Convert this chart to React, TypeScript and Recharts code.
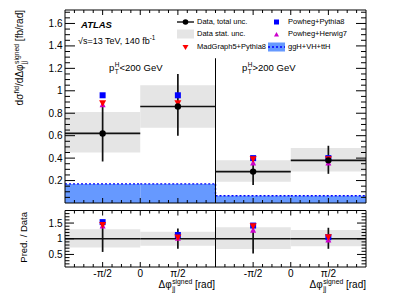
import React from 'react'
import { ComposedChart, XAxis, YAxis, Scatter, ErrorBar, ReferenceArea, ReferenceLine } from 'recharts'

// bins: two pT(H) regions, each split in dphi_jj < 0 and > 0
const binCentres = [0.5, 1.5, 2.5, 3.5]
const binHalfWidth = 0.5
const xTicks = [0.5, 1, 1.5, 2.5, 3, 3.5]
const xTickLabels = ['-π/2', '0', 'π/2', '-π/2', '0', 'π/2']

// main panel [fb/rad]
const dataValue = [0.62, 0.86, 0.28, 0.38]
const totalLow = [0.37, 0.6, 0.16, 0.26]
const totalHigh = [0.9, 1.15, 0.39, 0.51]
const statLow = [0.45, 0.67, 0.19, 0.28]
const statHigh = [0.81, 1.05, 0.38, 0.49]
const powhegPythia = [0.96, 0.96, 0.4, 0.4]
const madgraphPythia = [0.89, 0.89, 0.39, 0.39]
const powhegHerwig = [0.88, 0.88, 0.36, 0.36]
const otherHiggs = [0.17, 0.17, 0.065, 0.065]
const mainTicks = [0.2, 0.4, 0.6, 0.8, 1, 1.2, 1.4, 1.6]
const mainDomain = [0, 1.72]
const dividerTop = 1.29

// ratio panel
const ratioPowhegPythia = [1.53, 1.12, 1.42, 1.05]
const ratioMadgraph = [1.44, 1.04, 1.4, 1.05]
const ratioPowhegHerwig = [1.42, 1.03, 1.29, 0.98]
const ratioTotalLow = [0.58, 0.68, 0.53, 0.68]
const ratioTotalHigh = [1.45, 1.33, 1.4, 1.35]
const ratioStatLow = [0.72, 0.78, 0.67, 0.76]
const ratioStatHigh = [1.3, 1.22, 1.37, 1.28]
const ratioTicks = [0.5, 1, 1.5]
const ratioDomain = [0.1, 1.9]

// minor tick grids (majors are picked out of these by value)
const xAllTicks = Array.from({ length: 31 }, (_, i) => (i + 1) * 0.125)
const mainAllTicks = Array.from({ length: 34 }, (_, i) => Math.round((i + 1) * 5) / 100)
const ratioAllTicks = Array.from({ length: 17 }, (_, i) => Math.round(2 + i) / 10)

const FONT = '"Liberation Sans", Arial, Helvetica, sans-serif'
const GREY = '#e5e5e5'
const BLUE_FILL = '#6699ff'

const mainRows = binCentres.map((x, i) => ({
  x,
  xErr: binHalfWidth,
  data: dataValue[i],
  dataErr: [dataValue[i] - totalLow[i], totalHigh[i] - dataValue[i]],
  pp: powhegPythia[i],
  mg: madgraphPythia[i],
  ph: powhegHerwig[i],
}))

const ratioRows = binCentres.map((x, i) => ({
  x,
  xErr: binHalfWidth,
  data: 1,
  dataErr: [1 - ratioTotalLow[i], ratioTotalHigh[i] - 1],
  pp: ratioPowhegPythia[i],
  mg: ratioMadgraph[i],
  ph: ratioPowhegHerwig[i],
}))

const squareShape = (p: any) => <rect x={p.cx - 3} y={p.cy - 3} width={6} height={6} fill="#0000ff" />
const downTri = (p: any) => (
  <polygon points={`${p.cx - 3.5},${p.cy - 3} ${p.cx + 3.5},${p.cy - 3} ${p.cx},${p.cy + 3.5}`} fill="#ff0000" />
)
const upTri = (p: any) => (
  <polygon points={`${p.cx - 3},${p.cy + 3} ${p.cx + 3},${p.cy + 3} ${p.cx},${p.cy - 3}`} fill="#cc00cc" />
)
const dotShape = (p: any) => <circle cx={p.cx} cy={p.cy} r={3.2} fill="#000" />
const noShape = () => <g />

const line = { stroke: '#000', strokeWidth: 1 }
const isIn = (list: number[], v: number) => list.some((m) => Math.abs(m - v) < 1e-6)

// inward ROOT-style ticks, drawn at the coordinate recharts hands to the tick renderer
function yTick(majors: number[], side: 'left' | 'right', len: number, labels: boolean) {
  return (p: any) => {
    const v = p.payload.value
    const major = isIn(majors, v)
    const l = major ? len : len / 2
    const dir = side === 'left' ? 1 : -1
    return (
      <g>
        <line x1={p.x} x2={p.x + dir * l} y1={p.y} y2={p.y} stroke="#000" strokeWidth={1} />
        {labels && major && (
          <text x={p.x - 2.5} y={p.y} textAnchor="end" dominantBaseline="central" fontSize={10} fill="#000">{String(v)}</text>
        )}
      </g>
    )
  }
}

function xTick(side: 'bottom' | 'top', len: number, labels: boolean) {
  return (p: any) => {
    const v = p.payload.value
    const idx = xTicks.findIndex((m) => Math.abs(m - v) < 1e-6)
    const major = idx >= 0
    const l = major ? len : len * 0.6
    const dir = side === 'bottom' ? -1 : 1
    return (
      <g>
        <line x1={p.x} x2={p.x} y1={p.y} y2={p.y + dir * l} stroke="#000" strokeWidth={1} />
        {labels && major && (
          <text x={p.x} y={p.y + 10} textAnchor="middle" fontSize={10} fill="#000">{xTickLabels[idx]}</text>
        )}
      </g>
    )
  }
}

function frameAxes(domain: number[], yMajor: number[], yAll: number[], showX: boolean, yLen: number, xLen: number) {
  return [
    <XAxis key="xb" dataKey="x" type="number" domain={[0, 4]} allowDataOverflow ticks={xAllTicks} interval={0}
      height={1} tickSize={0} tickMargin={0} tickLine={false} axisLine={line} tick={xTick('bottom', xLen, showX)} />,
    <XAxis key="xt" xAxisId="xt" orientation="top" dataKey="x" type="number" domain={[0, 4]} allowDataOverflow ticks={xAllTicks} interval={0}
      height={1} tickSize={0} tickMargin={0} tickLine={false} axisLine={line} tick={xTick('top', xLen, false)} />,
    <YAxis key="yl" type="number" domain={domain} allowDataOverflow ticks={yAll} interval={0}
      width={1} tickSize={0} tickMargin={0} tickLine={false} axisLine={line} tick={yTick(yMajor, 'left', yLen, true)} />,
    <YAxis key="yr" yAxisId="yr" orientation="right" type="number" domain={domain} allowDataOverflow ticks={yAll} interval={0}
      width={1} tickSize={0} tickMargin={0} tickLine={false} axisLine={line} tick={yTick(yMajor, 'right', yLen, false)} />,
  ]
}

function statBands(lo: number[], hi: number[]) {
  return binCentres.map((x, i) => (
    <ReferenceArea key={'st' + i} x1={x - binHalfWidth} x2={x + binHalfWidth} y1={lo[i]} y2={hi[i]}
      fill={GREY} fillOpacity={1} stroke="none" />
  ))
}

function predictions() {
  return [
    <Scatter key="pp" dataKey="pp" shape={squareShape} isAnimationActive={false} />,
    <Scatter key="ph" dataKey="ph" shape={upTri} isAnimationActive={false} />,
    <Scatter key="mg" dataKey="mg" shape={downTri} isAnimationActive={false} />,
  ]
}

function dataSeries(shape: any) {
  return (
    <Scatter dataKey="data" shape={shape} isAnimationActive={false}>
      <ErrorBar dataKey="xErr" direction="x" width={0} stroke="#111" strokeWidth={1.7} />
      <ErrorBar dataKey="dataErr" direction="y" width={0} stroke="#111" strokeWidth={1.7} />
    </Scatter>
  )
}

// dotted outline of the other-Higgs histogram
const higgsOutline = binCentres.flatMap((x, i) => {
  const segs = [
    <ReferenceLine key={'h' + i} segment={[{ x: x - binHalfWidth, y: otherHiggs[i] }, { x: x + binHalfWidth, y: otherHiggs[i] }]}
      stroke="#0000ff" strokeWidth={1.4} strokeDasharray="2 2" />,
  ]
  if (i > 0 && otherHiggs[i] !== otherHiggs[i - 1]) {
    segs.push(
      <ReferenceLine key={'v' + i} segment={[{ x: x - binHalfWidth, y: otherHiggs[i - 1] }, { x: x - binHalfWidth, y: otherHiggs[i] }]}
        stroke="#0000ff" strokeWidth={1.4} strokeDasharray="2 2" />,
    )
  }
  return segs
})

function SubSup({ sub, sup }: { sub?: string; sup?: string }) {
  return (
    <span style={{ display: 'inline-flex', flexDirection: 'column', fontSize: '0.68em', lineHeight: 1.05, verticalAlign: 'middle', marginLeft: 0.5 }}>
      <span>{sup ?? '\u00a0'}</span>
      <span>{sub ?? '\u00a0'}</span>
    </span>
  )
}

const abs = (left: number, top: number, fontSize: number, extra: React.CSSProperties = {}): React.CSSProperties => ({
  position: 'absolute', left, top, fontSize, lineHeight: 1, whiteSpace: 'nowrap', ...extra,
})

function LegendSymbol({ kind }: { kind: string }) {
  return (
    <svg width={17} height={10} style={{ position: 'absolute', left: 0, top: -5 }}>
      {kind === 'data' && (<><line x1={0} x2={17} y1={5} y2={5} stroke="#000" strokeWidth={1.3} /><circle cx={8.5} cy={5} r={2.8} fill="#000" /></>)}
      {kind === 'stat' && <rect x={0} y={0.5} width={17} height={9} fill={GREY} />}
      {kind === 'mg' && <polygon points="5.5,3 11.5,3 8.5,8" fill="#ff0000" />}
      {kind === 'pp' && <rect x={6} y={2.5} width={5} height={5} fill="#0000ff" />}
      {kind === 'ph' && <polygon points="6,7.5 11,7.5 8.5,3" fill="#cc00cc" />}
      {kind === 'higgs' && (<><rect x={0} y={0.5} width={17} height={9} fill={BLUE_FILL} /><line x1={0} x2={17} y1={5} y2={5} stroke="#0000ff" strokeWidth={1.4} strokeDasharray="2 2" /></>)}
    </svg>
  )
}

function LegendItem({ left, cy, kind, text }: { left: number; cy: number; kind: string; text: string }) {
  return (
    <div style={{ position: 'absolute', left, top: cy }}>
      <LegendSymbol kind={kind} />
      <span style={{ position: 'absolute', left: 20, top: -4, fontSize: 7.5, lineHeight: 1, whiteSpace: 'nowrap' }}>{text}</span>
    </div>
  )
}

export default function App() {
  return (
    <div style={{ position: 'absolute', left: 0, top: 0, width: 407, height: 294, background: '#fff', fontFamily: FONT, color: '#000' }}>
      <div style={{ position: 'absolute', left: 0, top: 0 }}>
        <ComposedChart width={407} height={205} data={mainRows} margin={{ top: 9, right: 40, bottom: 1, left: 64 }}>
          {frameAxes(mainDomain, mainTicks, mainAllTicks, false, 10, 5)}
          {statBands(statLow, statHigh)}
          {binCentres.map((x, i) => (
            <ReferenceArea key={'hg' + i} x1={x - binHalfWidth} x2={x + binHalfWidth} y1={0} y2={otherHiggs[i]}
              fill={BLUE_FILL} fillOpacity={1} stroke="none" />
          ))}
          {higgsOutline}
          <ReferenceLine segment={[{ x: 2, y: 0 }, { x: 2, y: dividerTop }]} stroke="#000" strokeWidth={1} />
          {predictions()}
          {dataSeries(dotShape)}
        </ComposedChart>
      </div>
      <div style={{ position: 'absolute', left: 0, top: 205 }}>
        <ComposedChart width={407} height={89} data={ratioRows} margin={{ top: 4.5, right: 40, bottom: 26, left: 64 }}>
          {frameAxes(ratioDomain, ratioTicks, ratioAllTicks, true, 9, 5)}
          {statBands(ratioStatLow, ratioStatHigh)}
          <ReferenceLine x={2} stroke="#000" strokeWidth={1} />
          {predictions()}
          {dataSeries(noShape)}
        </ComposedChart>
      </div>

      <div style={abs(81, 20, 9.5, { fontWeight: 'bold', fontStyle: 'italic' })}>ATLAS</div>
      <div style={abs(78, 34.5, 9)}>√s=13 TeV, 140 fb<sup style={{ fontSize: '0.7em' }}>-1</sup></div>
      <div style={abs(109, 62, 9.5)}>p<SubSup sub="T" sup="H" />&lt;200 GeV</div>
      <div style={abs(242, 62, 9.5)}>p<SubSup sub="T" sup="H" />&gt;200 GeV</div>

      <LegendItem left={177} cy={21.5} kind="data" text="Data, total unc." />
      <LegendItem left={177} cy={34} kind="stat" text="Data stat. unc." />
      <LegendItem left={177} cy={46.5} kind="mg" text="MadGraph5+Pythia8" />
      <LegendItem left={268} cy={21.5} kind="pp" text="Powheg+Pythia8" />
      <LegendItem left={268} cy={34} kind="ph" text="Powheg+Herwig7" />
      <LegendItem left={268} cy={46.5} kind="higgs" text="ggH+VH+ttH" />

      <div style={abs(13, 10, 10, { transformOrigin: 'top left', transform: 'rotate(-90deg) translateX(-100%)' })}>
        dσ<SubSup sup="fid" />/dΔφ<SubSup sub="jj" sup="signed" /> [fb/rad]
      </div>
      <div style={abs(19, 212, 9.5, { transformOrigin: 'top left', transform: 'rotate(-90deg) translateX(-100%)' })}>
        Pred. / Data
      </div>

      <div style={abs(215, 278, 10, { transform: 'translateX(-100%)' })}>
        Δφ<SubSup sub="jj" sup="signed" /> [rad]
      </div>
      <div style={abs(366, 278, 10, { transform: 'translateX(-100%)' })}>
        Δφ<SubSup sub="jj" sup="signed" /> [rad]
      </div>
    </div>
  )
}
